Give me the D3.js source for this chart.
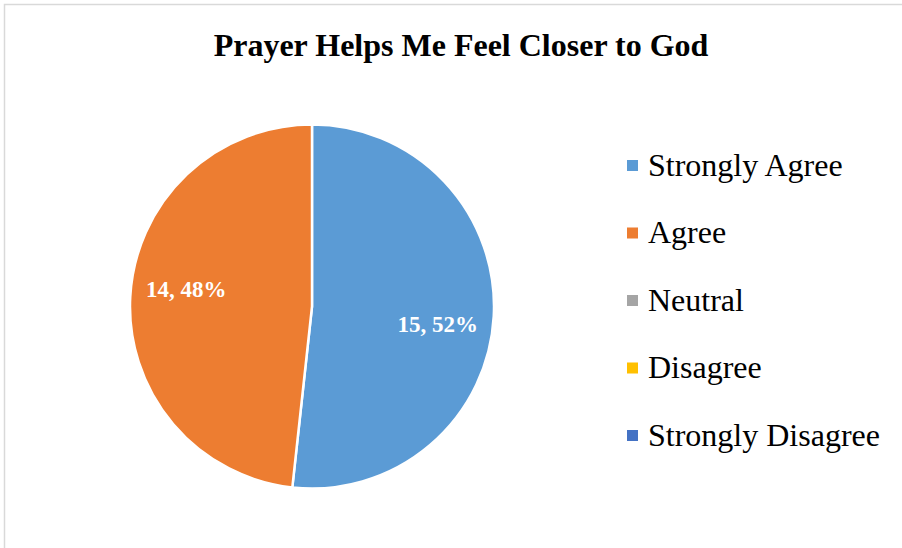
<!DOCTYPE html>
<html><head><meta charset="utf-8">
<script src="https://cdn.jsdelivr.net/npm/d3@7"></script>
<style>html,body{margin:0;padding:0;background:#fff;}svg{display:block;}</style>
</head><body>
<script>
const title = "Prayer Helps Me Feel Closer to God";
const categories = ["Strongly Agree","Agree","Neutral","Disagree","Strongly Disagree"];
const counts = [15,14,0,0,0];
const colors = ["#5B9BD5","#ED7D31","#A5A5A5","#FFC000","#4472C4"];

const W = 902, H = 548;
const svg = d3.select("body").append("svg").attr("width",W).attr("height",H);
svg.append("rect").attr("width",W).attr("height",H).attr("fill","#fff");
svg.append("rect").attr("x",4.5).attr("y",4.5).attr("width",W+20).attr("height",H+20)
  .attr("fill","none").attr("stroke","#d9d9d9").attr("stroke-width",1.5);

svg.append("text").attr("x",461).attr("y",56).attr("text-anchor","middle")
  .attr("font-family","'Liberation Serif','Times New Roman',serif").attr("font-weight","bold")
  .attr("font-size",32).attr("fill","#000").text(title);

const cx = 312, cy = 306.5, r = 182;
const total = d3.sum(counts);
const data = categories.map((c,i)=>({cat:c,val:counts[i],color:colors[i]}));
const pie = d3.pie().sort(null).value(d=>d.val);
const arcs = pie(data).filter(a=>a.data.val>0);
const arc = d3.arc().innerRadius(0).outerRadius(r);
const g = svg.append("g").attr("transform",`translate(${cx},${cy})`);
g.selectAll("path").data(arcs).join("path").attr("d",arc)
  .attr("fill",d=>d.data.color).attr("stroke","#fff").attr("stroke-width",2.5).attr("stroke-linejoin","round");

const labelR = 127, shift = 4.6*Math.PI/180;
g.selectAll("text.lbl").data(arcs).join("text").attr("class","lbl")
  .attr("x",d=>labelR*Math.sin((d.startAngle+d.endAngle)/2+shift))
  .attr("y",d=>-labelR*Math.cos((d.startAngle+d.endAngle)/2+shift)+8)
  .attr("text-anchor","middle")
  .attr("font-family","'Liberation Serif','Times New Roman',serif").attr("font-weight","bold")
  .attr("font-size",23).attr("fill","#fff")
  .text(d=>`${d.data.val}, ${Math.round(d.data.val/total*100)}%`);

const lg = svg.append("g");
const ly = d3.scalePoint().domain(categories).range([165.5,435.5]);
const items = lg.selectAll("g").data(data).join("g").attr("transform",d=>`translate(627,${ly(d.cat)})`);
items.append("rect").attr("x",0).attr("y",-5.5).attr("width",11).attr("height",11).attr("fill",d=>d.color);
items.append("text").attr("x",21).attr("y",10).attr("font-family","'Liberation Serif','Times New Roman',serif")
  .attr("font-size",32).attr("fill","#000").text(d=>d.cat);
</script>
</body></html>
